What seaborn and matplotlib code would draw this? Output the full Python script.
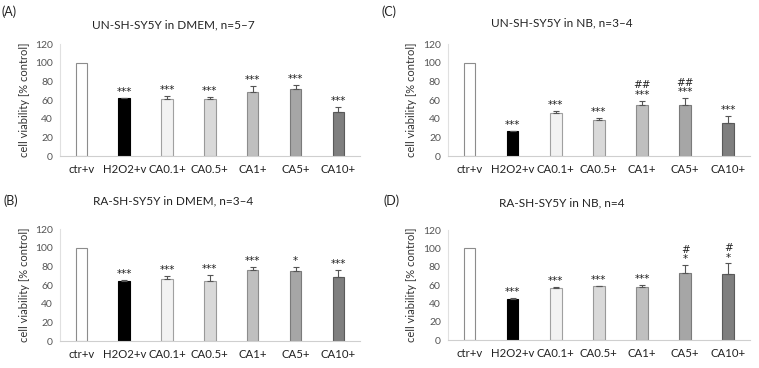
import matplotlib
matplotlib.use("Agg")
import matplotlib.pyplot as plt
import seaborn as sns
import pandas as pd
import numpy as np

sns.set_style("white")
plt.rcParams['font.family'] = ['Lato', 'DejaVu Sans']

# categorias comunes
grupos = ["ctr+v", "H2O2+v", "CA0.1+", "CA0.5+", "CA1+", "CA5+", "CA10+"]
colores = ["#ffffff", "#000000", "#f2f2f2", "#d9d9d9", "#bfbfbf", "#a6a6a6", "#7f7f7f"]
bordes = ["#8c8c8c", "#000000", "#a0a0a0", "#999999", "#8c8c8c", "#7a7a7a", "#5a5a5a"]

# (A) UN-SH-SY5Y en DMEM
media_a = [100, 62, 61.5, 61.5, 68.5, 71.5, 47.5]
error_a = [0, 0.5, 3, 1.5, 6.5, 4.5, 5]
sig_a = ["", "***", "***", "***", "***", "***", "***"]

# (C) UN-SH-SY5Y en NB
media_c = [100, 26.5, 46, 39, 54.5, 54.5, 35.5]
error_c = [0, 0.4, 2.5, 2, 4.5, 7.5, 7]
sig_c = ["", "***", "***", "***", "##\n***", "##\n***", "***"]

# (B) RA-SH-SY5Y en DMEM
media_b = [100, 64.5, 67, 65, 76, 75.5, 68.5]
error_b = [0, 0.8, 2.5, 5.5, 4, 4.5, 7.5]
sig_b = ["", "***", "***", "***", "***", "*", "***"]

# (D) RA-SH-SY5Y en NB
media_d = [100, 45, 57, 58.5, 58, 73, 72]
error_d = [0, 1.2, 1, 0.8, 2.5, 8.5, 11.5]
sig_d = ["", "***", "***", "***", "***", "#\n*", "#\n*"]

paneles = [
    ("(A)", "UN-SH-SY5Y in DMEM, n=5\u20137", media_a, error_a, sig_a, [0.079, 0.576, 0.395, 0.304], (173, 25), (2, 12)),
    ("(C)", "UN-SH-SY5Y in NB, n=3\u20134", media_c, error_c, sig_c, [0.590, 0.576, 0.398, 0.304], (562, 23), (381, 12)),
    ("(B)", "RA-SH-SY5Y in DMEM, n=3\u20134", media_b, error_b, sig_b, [0.079, 0.073, 0.395, 0.304], (173, 201), (4, 201)),
    ("(D)", "RA-SH-SY5Y in NB, n=4", media_d, error_d, sig_d, [0.590, 0.076, 0.398, 0.299], (562, 203), (384, 201)),
]

W, H = 759, 368
fig = plt.figure(figsize=(W / 100, H / 100), dpi=100)

for letra, titulo, media, error, sig, pos, ptit, plet in paneles:
    ax = fig.add_axes(pos)
    df = pd.DataFrame({"grupo": grupos, "valor": media})
    sns.barplot(data=df, x="grupo", y="valor", hue="grupo", palette=colores,
                width=0.27, legend=False, ax=ax)
    for barra, borde in zip(ax.patches, bordes):
        barra.set_edgecolor(borde)
        barra.set_linewidth(0.8)
    x = np.arange(len(grupos))
    ax.errorbar(x[1:], media[1:], yerr=[np.zeros(len(x) - 1), error[1:]],
                fmt="none", ecolor="#555555", elinewidth=0.8, capsize=2.5, capthick=0.8)
    for xi, m, e, s in zip(x, media, error, sig):
        if s:
            ax.text(xi, m + e + 1.0, s, ha="center", va="bottom", fontsize=7.5,
                    linespacing=0.95, color="#222222", family="DejaVu Sans")
    ax.set_ylim(0, 120)
    ax.set_yticks(range(0, 121, 20))
    ax.set_xlim(-0.5, 6.5)
    ax.set_xlabel("")
    ax.set_ylabel("cell viability [% control]", fontsize=8, color="#333333", labelpad=4)
    ax.tick_params(axis="both", length=0, labelsize=8.2, colors="#222222", pad=6)
    ax.tick_params(axis="y", labelsize=7.5, colors="#555555", pad=5)
    sns.despine(ax=ax)
    ax.spines["left"].set_color("#e0e0e0")
    ax.spines["left"].set_linewidth(0.8)
    ax.spines["bottom"].set_color("#cfcfcf")
    ax.spines["bottom"].set_linewidth(0.8)
    fig.text(ptit[0] / W, 1 - ptit[1] / H, titulo, ha="center", va="center",
             fontsize=8.5, color="#222222")
    fig.text(plet[0] / W, 1 - plet[1] / H, letra, ha="left", va="center",
             fontsize=9, color="#222222")

plt.savefig("out.png", dpi=100)
